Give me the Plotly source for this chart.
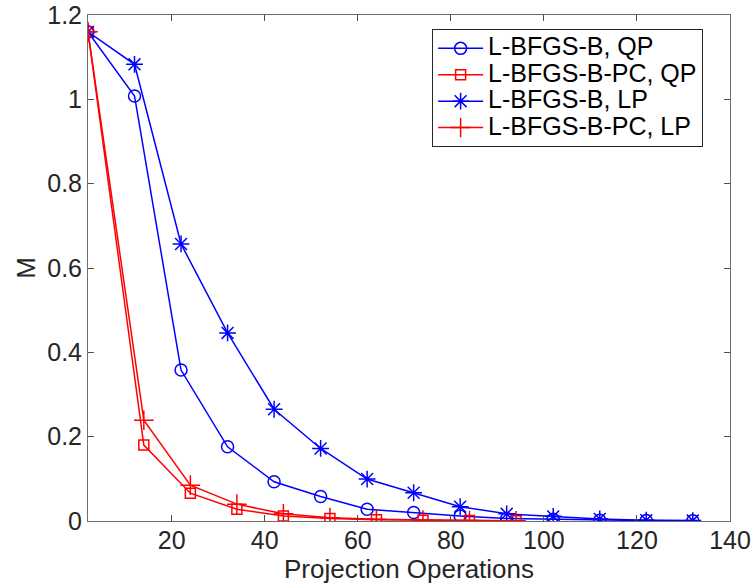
import plotly.graph_objects as go

x_blue = [2, 12, 22, 32, 42, 52, 62, 72, 82, 92, 102, 112, 122, 132]
x_red = [2, 14, 24, 34, 44, 54, 64, 74, 84, 94]

y_lbfgsb_qp = [1.16, 1.008, 0.358, 0.176, 0.093, 0.058, 0.028, 0.020, 0.012, 0.006, 0.004, 0.002, 0.001, 0.0005]
y_lbfgsb_lp = [1.16, 1.083, 0.657, 0.446, 0.265, 0.172, 0.0995, 0.067, 0.034, 0.017, 0.011, 0.005, 0.002, 0.001]
y_pc_qp = [1.16, 0.18, 0.066, 0.028, 0.012, 0.006, 0.003, 0.002, 0.001, 0.0005]
y_pc_lp = [1.16, 0.239, 0.085, 0.04, 0.017, 0.008, 0.004, 0.002, 0.001, 0.0005]

names = ["L-BFGS-B, QP", "L-BFGS-B-PC, QP", "L-BFGS-B, LP", "L-BFGS-B-PC, LP"]

BLUE = "#0000ff"
RED = "#ff0000"
FONT = "Liberation Sans, Arial, sans-serif"


def leg(n):
    return '<span style="font-size:25px">' + n + '</span>'


fig = go.Figure()
fig.add_trace(go.Scatter(x=x_blue, y=y_lbfgsb_qp, name=leg(names[0]), mode="lines+markers",
                         line=dict(color=BLUE, width=1.5),
                         marker=dict(symbol="circle-open", size=12, color=BLUE, line=dict(width=1.5))))
fig.add_trace(go.Scatter(x=x_red, y=y_pc_qp, name=leg(names[1]), mode="lines+markers",
                         line=dict(color=RED, width=1.5),
                         marker=dict(symbol="square-open", size=10, color=RED, line=dict(width=1.5))))
fig.add_trace(go.Scatter(x=x_blue, y=y_lbfgsb_lp, name=leg(names[2]), mode="lines+markers",
                         line=dict(color=BLUE, width=1.5),
                         marker=dict(symbol="asterisk-open", size=14, color=BLUE, line=dict(width=1.5, color=BLUE))))
fig.add_trace(go.Scatter(x=x_red, y=y_pc_lp, name=leg(names[3]), mode="lines+markers",
                         line=dict(color=RED, width=1.5),
                         marker=dict(symbol="cross-thin-open", size=14, color=RED, line=dict(width=1.5, color=RED))))

axis_common = dict(
    showline=True, linecolor="#6e6e6e", linewidth=1, mirror="ticks",
    ticks="inside", ticklen=6, tickcolor="#4d4d4d", tickwidth=1,
    showgrid=False, zeroline=False, automargin=False,
    tickfont=dict(family=FONT, size=25, color="#262626"),
)

fig.update_xaxes(range=[2, 140], tickvals=[20, 40, 60, 80, 100, 120, 140],
                 ticklabelstandoff=-3,
                 title=dict(text="Projection Operations", standoff=0,
                            font=dict(family=FONT, size=26, color="#262626")),
                 **axis_common)
fig.update_yaxes(range=[0, 1.2], tickvals=[0, 0.2, 0.4, 0.6, 0.8, 1.0, 1.2],
                 ticktext=["0", "0.2", "0.4", "0.6", "0.8", "1", "1.2"],
                 title=dict(text="M", standoff=4,
                            font=dict(family=FONT, size=26, color="#262626")),
                 **axis_common)

fig.update_layout(
    width=752, height=587,
    margin=dict(l=88, r=22, t=15, b=66),
    plot_bgcolor="white", paper_bgcolor="white",
    legend=dict(x=0.536, y=0.972, xanchor="left", yanchor="top",
                bordercolor="#262626", borderwidth=1, bgcolor="white",
                font=dict(family=FONT, size=18, color="black"),
                tracegroupgap=0, itemwidth=45),
    showlegend=True,
)

fig.write_html("out.html", config={"displayModeBar": False},
               post_script="document.body.style.margin='0px';")
